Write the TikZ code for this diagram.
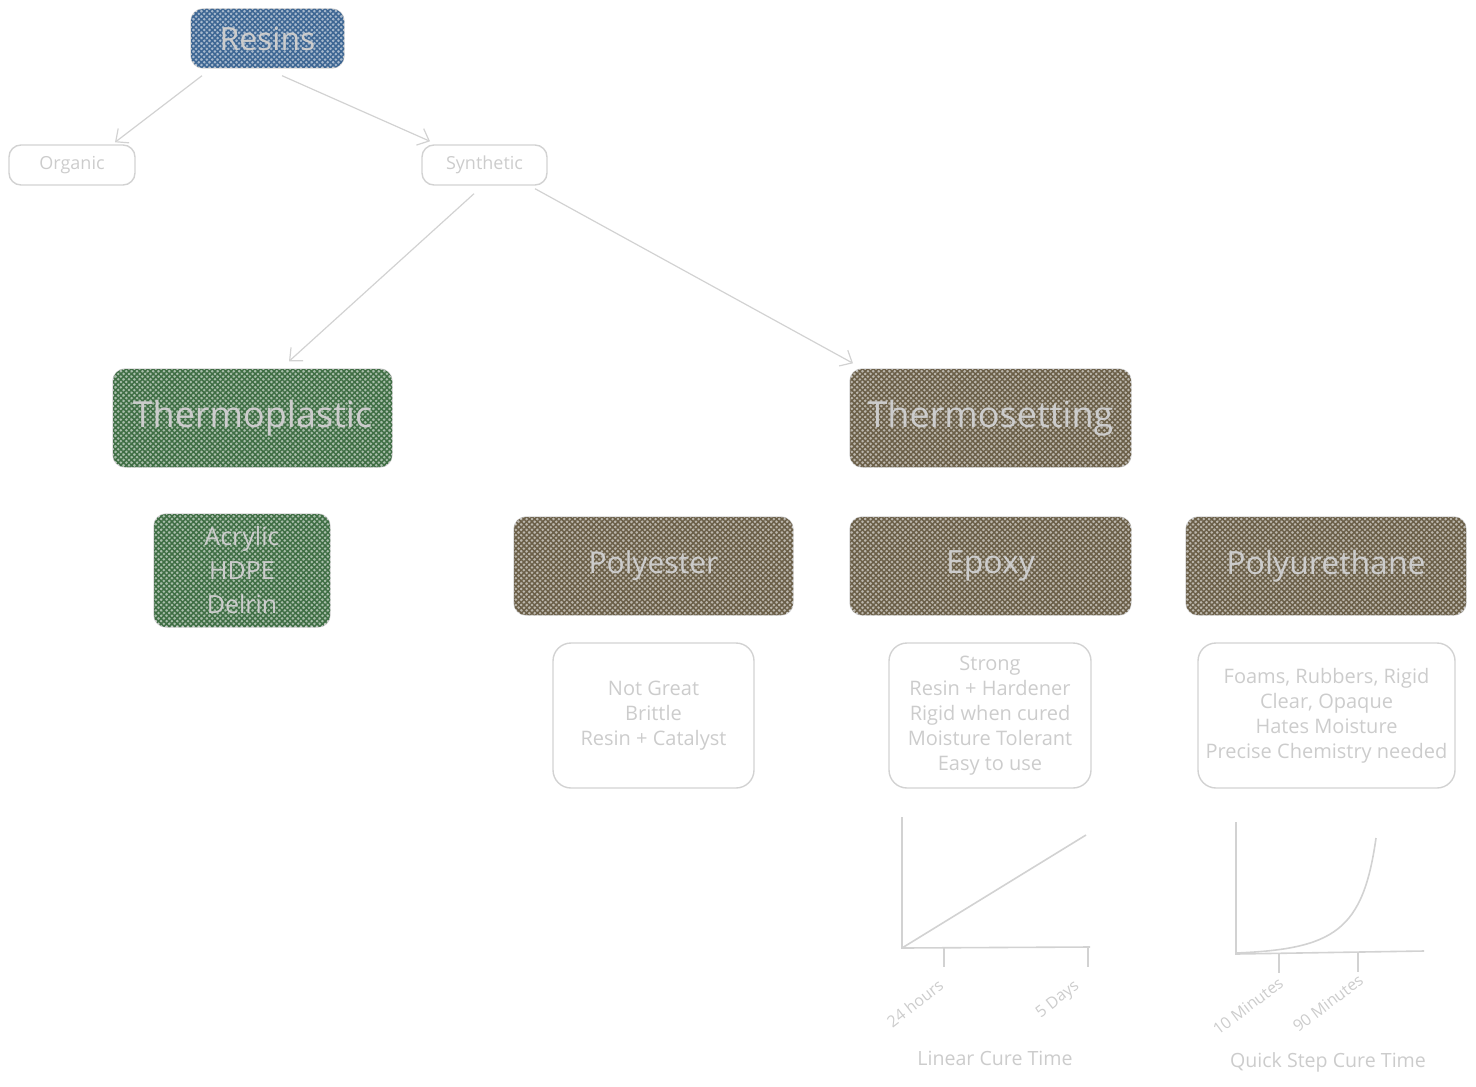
\documentclass[tikz,border=0pt]{standalone}
\usepackage{fontspec}
\setmainfont{Open Sans}
\usetikzlibrary{patterns.meta,arrows.meta}
\definecolor{txt}{HTML}{CCCCCC}
\definecolor{edge}{HTML}{D2D2D2}
\definecolor{blueC}{HTML}{3D6693}
\definecolor{greenC}{HTML}{3F6E44}
\definecolor{brownC}{HTML}{6B5F48}
\tikzset{
  box/.style={draw=edge, line width=0.7pt, rounded corners=6pt, inner sep=0pt, text=txt, align=center},
  hatch/.style={fill=#1!45, postaction={pattern color=#1, pattern={Lines[angle=45,distance=1.9pt,line width=0.75pt]}},
                postaction={pattern color=#1, pattern={Lines[angle=-45,distance=1.9pt,line width=0.75pt]}}},
  arr/.style={draw=edge, line width=0.6pt, -{Straight Barb[length=5pt,width=9pt]}},
  axis/.style={draw=edge, line width=0.8pt},
  lbl/.style={text=txt, font=\fontsize{8}{9}\selectfont, inner sep=0pt},
  ttl/.style={text=txt, font=\fontsize{9.8}{11}\selectfont, inner sep=0pt}
}
\begin{document}
\begin{tikzpicture}[x=0.5pt,y=-0.5pt]
\useasboundingbox (0,0) rectangle (1476,1086);

% level 0/1
\node[box, hatch=blueC, minimum width=76.5pt, minimum height=29.5pt, font=\fontsize{16}{18}\selectfont] (resins) at (267.5,38.5) {Resins};
\node[box, minimum width=63pt, minimum height=20pt, font=\fontsize{9}{10}\selectfont] (organic) at (72,165) {Organic};
\node[box, minimum width=62.5pt, minimum height=20pt, font=\fontsize{9}{10}\selectfont] (synthetic) at (484.5,165) {Synthetic};

% level 2
\node[box, hatch=greenC, minimum width=139.5pt, minimum height=49pt, font=\fontsize{18}{20}\selectfont] (tplastic) at (252.5,418) {Thermoplastic};
\node[box, hatch=brownC, minimum width=140.5pt, minimum height=49pt, font=\fontsize{18}{20}\selectfont] (tset) at (990.5,418) {Thermosetting};

% level 3
\node[box, hatch=greenC, minimum width=88pt, minimum height=56.5pt, font=\fontsize{12.5}{17}\selectfont] (acrylic) at (242,570.5) {Acrylic\\HDPE\\Delrin};
\node[box, hatch=brownC, minimum width=139.5pt, minimum height=49pt, font=\fontsize{15}{17}\selectfont] (polyester) at (653.5,566) {Polyester};
\node[box, hatch=brownC, minimum width=140.5pt, minimum height=49pt, font=\fontsize{16}{18}\selectfont] (epoxy) at (990.5,566) {Epoxy};
\node[box, hatch=brownC, minimum width=140pt, minimum height=49pt, font=\fontsize{16}{18}\selectfont] (pu) at (1326,566) {Polyurethane};

% info boxes
\node[box, rounded corners=9pt, minimum width=100.5pt, minimum height=72.5pt, font=\fontsize{10}{12.5}\selectfont] (polyinfo) at (653.5,715.5) {Not Great\\Brittle\\Resin + Catalyst};
\node[box, rounded corners=9pt, minimum width=101pt, minimum height=72.5pt, font=\fontsize{10}{12.5}\selectfont] (epoxyinfo) at (990,715.5) {Strong\\Resin + Hardener\\Rigid when cured\\Moisture Tolerant\\Easy to use};
\node[box, rounded corners=9pt, minimum width=128.5pt, minimum height=72.5pt, font=\fontsize{10}{12.5}\selectfont] (puinfo) at (1326.5,715.5) {Foams, Rubbers, Rigid\\Clear, Opaque\\Hates Moisture\\Precise Chemistry needed};

% arrows
\draw[arr] ([shift={(-65.5,7)}]resins.south) -- ([shift={(43,-2)}]organic.north);
\draw[arr] ([shift={(14.5,7)}]resins.south) -- ([shift={(-54.5,-3)}]synthetic.north);
\draw[arr] ([shift={(-10.5,8)}]synthetic.south) -- ([shift={(36.5,-7)}]tplastic.north);
\draw[arr] ([shift={(50.5,3)}]synthetic.south) -- ([shift={(-137.5,-5)}]tset.north);

% linear cure graph
\draw[axis] (902,817) -- (902,948) -- (1090,947);
\draw[axis] (944,948) -- (944,967);
\draw[axis] (1088,948) -- (1088,967);
\draw[axis] (902,948) -- (1086,835);
\node[lbl, rotate=38] (h24) at (915,1003) {24 hours};
\node[lbl, rotate=38] (d5) at (1058,1000) {5 Days};
\node[ttl] (lct) at (995,1058) {Linear Cure Time};

% quick step graph
\draw[axis] (1236,822) -- (1236,954) -- (1424,951);
\draw[axis] (1279,953) -- (1279,973);
\draw[axis] (1358,952) -- (1358,972);
\draw[axis] (1236,953) .. controls (1335,949) and (1363,930) .. (1376,838);
\node[lbl, rotate=37] (m10) at (1248,1006) {10 Minutes};
\node[lbl, rotate=37] (m90) at (1328,1003) {90 Minutes};
\node[ttl] (qst) at (1328,1062) {Quick Step Cure Time};
\end{tikzpicture}
\end{document}
